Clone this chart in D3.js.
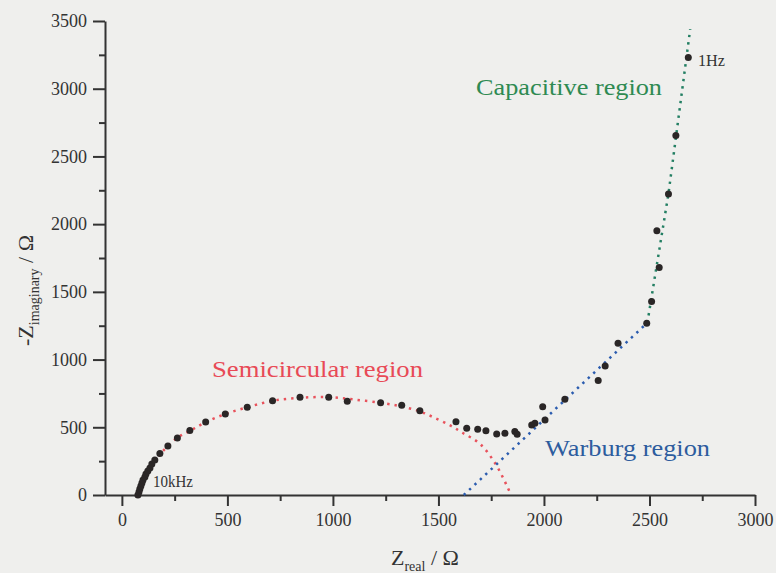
<!DOCTYPE html>
<html>
<head>
<meta charset="utf-8">
<script src="https://cdn.jsdelivr.net/npm/d3@7"></script>
<style>
  body { margin: 0; background: #efefed; }
  svg { display: block; }
</style>
</head>
<body>
<svg id="chart" width="776" height="573"></svg>
<script>
// measured impedance points (ohm)
const zReal = [76, 81, 85, 90, 95, 100, 109, 114, 123, 133, 142, 156, 180, 218, 263, 322, 397, 490, 594, 714,
  844, 980, 1068, 1226, 1326, 1412, 1583, 1634, 1686, 1725, 1776, 1815, 1862, 1873, 1942, 1957, 1994, 2005, 2099, 2257,
  2290, 2351, 2487, 2510, 2546, 2535, 2590, 2625, 2684];
const zImag = [0, 22, 44, 66, 89, 111, 133, 155, 177, 199, 229, 259, 307, 362, 421, 476, 539, 598, 648, 696,
  722, 722, 692, 682, 663, 623, 541, 493, 485, 475, 451, 456, 468, 448, 517, 530, 652, 554, 707, 846,
  953, 1120, 1268, 1428, 1679, 1952, 2223, 2655, 3231];

// guide lines
const semiRe = [75, 95, 130, 180, 260, 330, 400, 490, 595, 715, 845, 980, 1100, 1230, 1330, 1412, 1483, 1560, 1616, 1697, 1768, 1829, 1843];
const semiIm = [0, 100, 200, 300, 420, 480, 540, 598, 648, 696, 718, 722, 705, 680, 652, 617, 569, 510, 458, 377, 236, 52, 0];
const warburgRe = [1620, 2490];
const warburgIm = [0, 1272];
const capRe = [2490, 2590, 2693];
const capIm = [1272, 2225, 3440];

const xTicks = [0, 500, 1000, 1500, 2000, 2500, 3000];
const xMinor = [250, 750, 1250, 1750, 2250, 2750];
const yTicks = [0, 500, 1000, 1500, 2000, 2500, 3000, 3500];
const yMinor = [250, 750, 1250, 1750, 2250, 2750, 3250];

const svg = d3.select('#chart');
const serif = "'Liberation Serif', 'Times New Roman', serif";

svg.append('rect').attr('width', 776).attr('height', 573).attr('fill', '#efefed');

const x = d3.scaleLinear().domain([-80, 3000]).range([105, 755]);
const y = d3.scaleLinear().domain([0, 3500]).range([495, 21]);

// axes
const gx = svg.append('g').attr('transform', 'translate(0,495)');
gx.call(d3.axisBottom(x).tickValues(xTicks).tickFormat(d3.format('d')).tickSize(11).tickSizeOuter(0).tickPadding(7));
gx.append('g').call(d3.axisBottom(x).tickValues(xMinor).tickSize(6).tickFormat('')).select('.domain').remove();

const gy = svg.append('g').attr('transform', 'translate(105,0)');
gy.call(d3.axisLeft(y).tickValues(yTicks).tickFormat(d3.format('d')).tickSize(12).tickSizeOuter(0).tickPadding(6));
gy.append('g').call(d3.axisLeft(y).tickValues(yMinor).tickSize(6).tickFormat('')).select('.domain').remove();

svg.selectAll('.domain, .tick line').attr('stroke', '#333').attr('stroke-width', 2);
svg.selectAll('.tick text')
  .attr('font-family', serif).attr('font-size', 18).attr('fill', '#333');

// dotted guide lines
const pts = (xs, ys) => xs.map((v, i) => [v, ys[i]]);
const line = d3.line().x(d => x(d[0])).y(d => y(d[1]));

function guide(data, color, curve) {
  svg.append('path')
    .attr('d', line.curve(curve)(data))
    .attr('fill', 'none')
    .attr('stroke', color)
    .attr('stroke-width', 2.5)
    .attr('stroke-dasharray', '2.4,5');
}
guide(pts(semiRe, semiIm), '#e8525c', d3.curveCatmullRom);
guide(pts(warburgRe, warburgIm), '#2b5caf', d3.curveLinear);
guide(pts(capRe, capIm), '#237f63', d3.curveLinear);

// data points
svg.append('g').selectAll('circle')
  .data(pts(zReal, zImag))
  .enter()
  .append('circle')
  .attr('cx', d => x(d[0]))
  .attr('cy', d => y(d[1]))
  .attr('r', 3.5)
  .attr('fill', '#2a2626');

// region labels
function label(txt, px, py, w, size, color) {
  svg.append('text')
    .attr('x', px).attr('y', py)
    .attr('font-family', serif).attr('font-size', size)
    .attr('fill', color)
    .attr('textLength', w).attr('lengthAdjust', 'spacingAndGlyphs')
    .text(txt);
}
label('Semicircular region', 212, 377, 211, 24, '#e84a56');
label('Capacitive region', 476, 95, 186, 24, '#2e8a52');
label('Warburg region', 545, 456, 165, 24, '#2d5c9e');
label('10kHz', 153, 487, 40, 16, '#333');
label('1Hz', 698, 66, 27, 16, '#333');

// axis titles
const xt = svg.append('text')
  .attr('x', 391).attr('y', 565)
  .attr('font-family', serif).attr('font-size', 22).attr('fill', '#333');
xt.append('tspan').text('Z');
xt.append('tspan').attr('font-size', 14).attr('dy', 6).text('real');
xt.append('tspan').attr('dy', -6).text(' / Ω');

const yt = svg.append('text')
  .attr('transform', 'translate(33,346) rotate(-90)')
  .attr('font-family', serif).attr('font-size', 22).attr('fill', '#333');
yt.append('tspan').text('-Z');
yt.append('tspan').attr('font-size', 14).attr('dy', 6).text('imaginary');
yt.append('tspan').attr('dy', -6).text(' / Ω');
</script>
</body>
</html>
